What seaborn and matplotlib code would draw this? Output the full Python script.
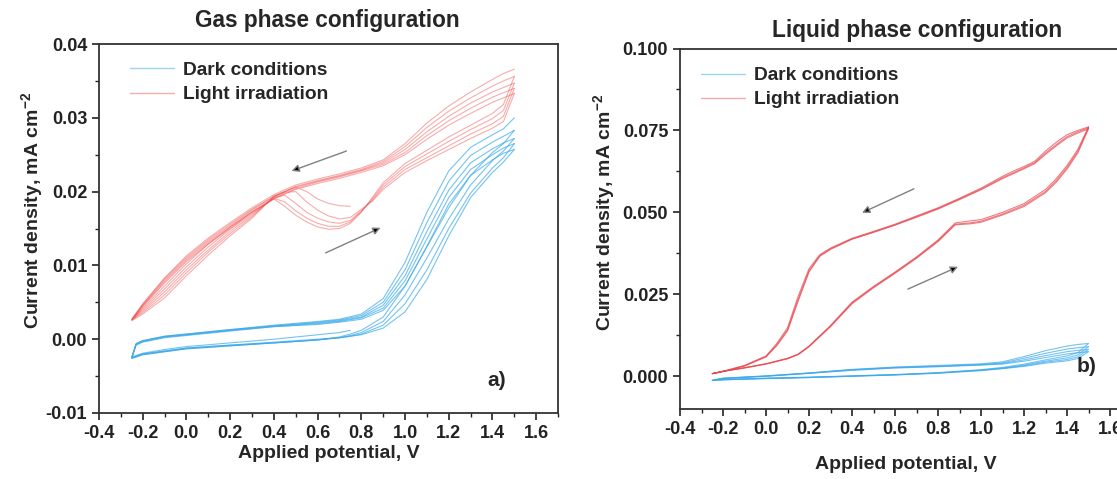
import numpy as np
import pandas as pd
import matplotlib
matplotlib.use("Agg")
import matplotlib.pyplot as plt
import seaborn as sns
from matplotlib.lines import Line2D
from matplotlib.ticker import MultipleLocator

# --- Gas phase: potential grids (V) ---
GAS_LIGHT_FWD_V = [-0.25, -0.2, -0.1, 0.0, 0.1, 0.2, 0.3, 0.4, 0.45, 0.5, 0.55, 0.6, 0.65,
                   0.7, 0.75, 0.8, 0.85, 0.9, 1.0, 1.1, 1.2, 1.3, 1.4, 1.45, 1.5]
GAS_LIGHT_REV_V = [1.5, 1.45, 1.4, 1.3, 1.2, 1.1, 1.0, 0.9, 0.8, 0.7, 0.6, 0.5, 0.4, 0.3,
                   0.2, 0.1, 0.0, -0.1, -0.2, -0.25]
GAS_DARK_FWD_V = [-0.25, -0.2, -0.1, 0.0, 0.2, 0.4, 0.6, 0.7, 0.75, 0.8, 0.9, 1.0, 1.1,
                  1.2, 1.3, 1.4, 1.45, 1.5]
GAS_DARK_REV_V = [1.5, 1.45, 1.4, 1.3, 1.2, 1.1, 1.0, 0.9, 0.8, 0.7, 0.6, 0.4, 0.2, 0.0,
                  -0.1, -0.2, -0.23, -0.25]

# --- Gas phase: current density per cycle (mA cm-2) ---
GAS_LIGHT_FWD = [
    [0.0027, 0.0042, 0.0072, 0.0102, 0.0129, 0.0152, 0.0172, 0.0190, 0.0180, 0.0168, 0.0159, 0.0152, 0.0149,
     0.0150, 0.0157, 0.0172, 0.0192, 0.0212, 0.0238, 0.0256, 0.0274, 0.0290, 0.0306, 0.0318, 0.0356],
    [0.0027, 0.0040, 0.0068, 0.0098, 0.0125, 0.0149, 0.0170, 0.0191, 0.0186, 0.0174, 0.0164, 0.0157, 0.0153,
     0.0153, 0.0159, 0.0173, 0.0190, 0.0209, 0.0234, 0.0251, 0.0268, 0.0284, 0.0299, 0.0310, 0.0347],
    [0.0026, 0.0038, 0.0064, 0.0094, 0.0121, 0.0146, 0.0168, 0.0192, 0.0195, 0.0184, 0.0172, 0.0164, 0.0159,
     0.0157, 0.0161, 0.0174, 0.0188, 0.0206, 0.0230, 0.0246, 0.0262, 0.0278, 0.0292, 0.0302, 0.0340],
    [0.0026, 0.0036, 0.0060, 0.0090, 0.0118, 0.0143, 0.0166, 0.0193, 0.0199, 0.0200, 0.0186, 0.0175, 0.0167,
     0.0163, 0.0165, 0.0176, 0.0187, 0.0203, 0.0226, 0.0242, 0.0257, 0.0272, 0.0286, 0.0295, 0.0333],
    [0.0025, 0.0034, 0.0056, 0.0086, 0.0114, 0.0140, 0.0164, 0.0194, 0.0200, 0.0206, 0.0200, 0.0190, 0.0184,
     0.0181, 0.0180],
]
GAS_LIGHT_REV = [
    [0.0366, 0.0360, 0.0352, 0.0335, 0.0316, 0.0293, 0.0265, 0.0243, 0.0232, 0.0224, 0.0217, 0.0209, 0.0196,
     0.0178, 0.0158, 0.0137, 0.0113, 0.0083, 0.0048, 0.0027],
    [0.0356, 0.0350, 0.0343, 0.0327, 0.0309, 0.0287, 0.0261, 0.0241, 0.0230, 0.0222, 0.0215, 0.0207, 0.0194,
     0.0176, 0.0156, 0.0135, 0.0111, 0.0082, 0.0047, 0.0027],
    [0.0347, 0.0341, 0.0335, 0.0320, 0.0302, 0.0281, 0.0257, 0.0239, 0.0229, 0.0221, 0.0214, 0.0206, 0.0193,
     0.0175, 0.0154, 0.0133, 0.0109, 0.0080, 0.0046, 0.0026],
    [0.0340, 0.0334, 0.0328, 0.0313, 0.0296, 0.0276, 0.0253, 0.0237, 0.0228, 0.0220, 0.0213, 0.0204, 0.0191,
     0.0173, 0.0152, 0.0131, 0.0107, 0.0078, 0.0045, 0.0026],
    [0.0333, 0.0327, 0.0321, 0.0306, 0.0290, 0.0271, 0.0250, 0.0235, 0.0226, 0.0218, 0.0211, 0.0203, 0.0190,
     0.0172, 0.0150, 0.0129, 0.0105, 0.0076, 0.0044, 0.0025],
]
GAS_DARK_FWD = [
    [-0.0026, -0.0021, -0.0017, -0.0013, -0.0009, -0.0005, -0.0001, 0.0003, 0.0007, 0.0012, 0.0030, 0.0072,
     0.0125, 0.0178, 0.0222, 0.0253, 0.0265, 0.0283],
    [-0.0026, -0.0021, -0.0017, -0.0013, -0.0009, -0.0005, -0.0001, 0.0002, 0.0005, 0.0009, 0.0024, 0.0060,
     0.0110, 0.0163, 0.0209, 0.0242, 0.0255, 0.0272],
    [-0.0025, -0.0020, -0.0016, -0.0012, -0.0008, -0.0005, -0.0001, 0.0002, 0.0004, 0.0007, 0.0019, 0.0048,
     0.0094, 0.0150, 0.0198, 0.0232, 0.0246, 0.0265],
    [-0.0025, -0.0020, -0.0016, -0.0012, -0.0008, -0.0004, 0.0000, 0.0002, 0.0004, 0.0006, 0.0015, 0.0037,
     0.0081, 0.0140, 0.0192, 0.0226, 0.0240, 0.0257],
    [-0.0024, -0.0019, -0.0014, -0.0010, -0.0005, 0.0000, 0.0006, 0.0009, 0.0012],
]
GAS_DARK_REV = [
    [0.0300, 0.0285, 0.0277, 0.0260, 0.0228, 0.0172, 0.0104, 0.0055, 0.0034, 0.0027, 0.0024, 0.0019, 0.0013,
     0.0007, 0.0004, -0.0002, -0.0006, -0.0026],
    [0.0283, 0.0275, 0.0267, 0.0249, 0.0214, 0.0158, 0.0094, 0.0050, 0.0032, 0.0026, 0.0023, 0.0018, 0.0013,
     0.0007, 0.0004, -0.0002, -0.0006, -0.0026],
    [0.0272, 0.0266, 0.0258, 0.0239, 0.0202, 0.0146, 0.0086, 0.0046, 0.0030, 0.0025, 0.0022, 0.0018, 0.0012,
     0.0006, 0.0003, -0.0003, -0.0007, -0.0025],
    [0.0265, 0.0259, 0.0250, 0.0230, 0.0192, 0.0136, 0.0079, 0.0042, 0.0029, 0.0024, 0.0021, 0.0017, 0.0012,
     0.0006, 0.0003, -0.0003, -0.0007, -0.0025],
    [0.0257, 0.0252, 0.0243, 0.0222, 0.0183, 0.0126, 0.0072, 0.0039, 0.0027, 0.0023, 0.0020, 0.0017, 0.0011,
     0.0005, 0.0002, -0.0004, -0.0008, -0.0024],
]

# --- Liquid phase: potential grids (V) ---
LIQ_LIGHT_FWD_V = [-0.25, -0.2, -0.1, 0.0, 0.1, 0.15, 0.2, 0.3, 0.4, 0.5, 0.6, 0.7, 0.8, 0.88, 0.95,
                   1.0, 1.1, 1.2, 1.3, 1.35, 1.4, 1.45, 1.5]
LIQ_LIGHT_REV_V = [1.5, 1.45, 1.4, 1.35, 1.3, 1.25, 1.2, 1.15, 1.1, 1.0, 0.9, 0.8, 0.7, 0.6, 0.5, 0.4,
                   0.3, 0.25, 0.2, 0.15, 0.1, 0.05, 0.0, -0.1, -0.2, -0.25]
LIQ_DARK_FWD_V = [-0.25, -0.2, 0.0, 0.2, 0.4, 0.6, 0.8, 1.0, 1.1, 1.2, 1.3, 1.4, 1.45, 1.5]
LIQ_DARK_REV_V = [1.5, 1.45, 1.4, 1.3, 1.2, 1.1, 1.0, 0.8, 0.6, 0.4, 0.2, 0.0, -0.2, -0.25]

# --- Liquid phase: current density per cycle (mA cm-2) ---
LIQ_LIGHT_FWD = [
    [0.0008, 0.0015, 0.0026, 0.0038, 0.0055, 0.0068, 0.0092, 0.0155, 0.0226, 0.0274, 0.0318, 0.0364, 0.0416,
     0.0468, 0.0474, 0.0478, 0.0500, 0.0527, 0.0570, 0.0603, 0.0643, 0.0692, 0.0761],
    [0.0008, 0.0015, 0.0026, 0.0038, 0.0054, 0.0067, 0.0091, 0.0153, 0.0224, 0.0272, 0.0316, 0.0362, 0.0413,
     0.0464, 0.0468, 0.0473, 0.0495, 0.0522, 0.0564, 0.0597, 0.0637, 0.0686, 0.0758],
    [0.0008, 0.0015, 0.0025, 0.0037, 0.0053, 0.0066, 0.0090, 0.0151, 0.0221, 0.0270, 0.0314, 0.0360, 0.0411,
     0.0462, 0.0465, 0.0470, 0.0492, 0.0518, 0.0560, 0.0592, 0.0632, 0.0681, 0.0755],
]
LIQ_LIGHT_REV = [
    [0.0761, 0.0750, 0.0737, 0.0714, 0.0687, 0.0656, 0.0640, 0.0626, 0.0610, 0.0574, 0.0543, 0.0514, 0.0489,
     0.0464, 0.0442, 0.0421, 0.0391, 0.0371, 0.0328, 0.0245, 0.0148, 0.0100, 0.0062, 0.0033, 0.0015, 0.0008],
    [0.0758, 0.0746, 0.0731, 0.0707, 0.0681, 0.0652, 0.0636, 0.0621, 0.0606, 0.0571, 0.0541, 0.0512, 0.0487,
     0.0462, 0.0440, 0.0419, 0.0389, 0.0368, 0.0322, 0.0236, 0.0142, 0.0096, 0.0060, 0.0032, 0.0015, 0.0008],
    [0.0755, 0.0742, 0.0727, 0.0703, 0.0677, 0.0649, 0.0633, 0.0618, 0.0603, 0.0569, 0.0539, 0.0510, 0.0485,
     0.0461, 0.0439, 0.0418, 0.0387, 0.0366, 0.0318, 0.0230, 0.0138, 0.0093, 0.0059, 0.0031, 0.0014, 0.0008],
]
LIQ_DARK_FWD = [
    [-0.0012, -0.0010, -0.0006, -0.0003, 0.0001, 0.0005, 0.0011, 0.0020, 0.0027, 0.0037, 0.0050, 0.0062, 0.0072, 0.0100],
    [-0.0012, -0.0010, -0.0006, -0.0003, 0.0001, 0.0005, 0.0010, 0.0019, 0.0025, 0.0034, 0.0046, 0.0056, 0.0065, 0.0090],
    [-0.0013, -0.0011, -0.0007, -0.0004, 0.0000, 0.0004, 0.0010, 0.0018, 0.0024, 0.0032, 0.0043, 0.0051, 0.0059, 0.0082],
    [-0.0013, -0.0011, -0.0007, -0.0004, 0.0000, 0.0004, 0.0009, 0.0017, 0.0023, 0.0030, 0.0040, 0.0047, 0.0054, 0.0075],
]
LIQ_DARK_REV = [
    [0.0100, 0.0097, 0.0092, 0.0078, 0.0060, 0.0044, 0.0038, 0.0033, 0.0028, 0.0021, 0.0010, 0.0001, -0.0006, -0.0012],
    [0.0090, 0.0087, 0.0083, 0.0070, 0.0055, 0.0041, 0.0036, 0.0031, 0.0027, 0.0020, 0.0010, 0.0001, -0.0006, -0.0012],
    [0.0082, 0.0079, 0.0075, 0.0063, 0.0050, 0.0039, 0.0035, 0.0030, 0.0026, 0.0019, 0.0009, 0.0000, -0.0007, -0.0013],
    [0.0075, 0.0072, 0.0068, 0.0057, 0.0046, 0.0037, 0.0034, 0.0029, 0.0025, 0.0018, 0.0009, 0.0000, -0.0007, -0.0013],
]

# scan direction arrows: (start V, start j, end V, end j)
GAS_ARROWS = [(0.732, 0.0255, 0.481, 0.0228), (0.637, 0.0117, 0.888, 0.0151)]
LIQ_ARROWS = [(0.688, 0.0572, 0.447, 0.0499), (0.660, 0.0266, 0.893, 0.0334)]

LABELS = ["Dark conditions", "Light irradiation"]


def cycles_frame(rev_v, rev, fwd_v, fwd):
    # each cycle: reverse sweep 1.5 -> -0.25 then forward sweep back up
    rows = []
    for i, (r, f) in enumerate(zip(rev, fwd)):
        vv = list(rev_v[:len(r)]) + list(fwd_v[:len(f)])
        jj = list(r) + list(f)
        rows.append(pd.DataFrame({"V": vv, "j": jj, "cycle": i}))
    return pd.concat(rows, ignore_index=True)


sns.set_style("ticks")
plt.rcParams["font.family"] = ["Liberation Sans", "DejaVu Sans"]
plt.rcParams["font.weight"] = "bold"
plt.rcParams["mathtext.fontset"] = "custom"
plt.rcParams["mathtext.bf"] = "Liberation Sans:bold"
plt.rcParams["mathtext.rm"] = "Liberation Sans:bold"

fig = plt.figure(figsize=(11.17, 4.79), dpi=100)
ax1 = fig.add_axes([0.0886, 0.1378, 0.4110, 0.7703])
ax2 = fig.add_axes([0.6088, 0.1461, 0.4042, 0.7526])

panels = [
    dict(ax=ax1, dark=(GAS_DARK_REV_V, GAS_DARK_REV, GAS_DARK_FWD_V, GAS_DARK_FWD),
         light=(GAS_LIGHT_REV_V, GAS_LIGHT_REV, GAS_LIGHT_FWD_V, GAS_LIGHT_FWD),
         dark_c="#3aa9ea", light_c="#f04848", light_a=0.45, ylim=(-0.01, 0.04), ymaj=0.01, yfmt="%.2f",
         title="Gas phase configuration", title_xy=(0.2927, 0.958), tag="a)", tag_xy=(0.867, 0.089),
         arrows=GAS_ARROWS, leg_xy=(0.0675, 0.952), ylab_x=-0.117, ylab_y=0.55, xlab_y=-0.087),
    dict(ax=ax2, dark=(LIQ_DARK_REV_V, LIQ_DARK_REV, LIQ_DARK_FWD_V, LIQ_DARK_FWD),
         light=(LIQ_LIGHT_REV_V, LIQ_LIGHT_REV, LIQ_LIGHT_FWD_V, LIQ_LIGHT_FWD),
         dark_c="#3aa9ea", light_c="#e8444c", light_a=0.7, ylim=(-0.01, 0.1), ymaj=0.025, yfmt="%.3f",
         title="Liquid phase configuration", title_xy=(0.821, 0.937), tag="b)", tag_xy=(0.901, 0.117),
         arrows=LIQ_ARROWS, leg_xy=(0.0465, 0.949), ylab_x=-0.139, ylab_y=0.544, xlab_y=-0.130),
]

for p in panels:
    ax = p["ax"]
    dark_df = cycles_frame(*p["dark"])
    light_df = cycles_frame(*p["light"])
    sns.lineplot(data=dark_df, x="V", y="j", units="cycle", estimator=None, sort=False,
                 color=p["dark_c"], alpha=0.7, lw=0.8, ax=ax, legend=False)
    sns.lineplot(data=light_df, x="V", y="j", units="cycle", estimator=None, sort=False,
                 color=p["light_c"], alpha=p["light_a"], lw=0.8, ax=ax, legend=False)

    for x0, y0, x1, y1 in p["arrows"]:
        ax.annotate("", xy=(x1, y1), xytext=(x0, y0),
                    arrowprops=dict(arrowstyle="-|>", edgecolor="#808080", facecolor="black",
                                    lw=1.0, mutation_scale=11, shrinkA=0, shrinkB=0))

    ax.set_xlim(-0.4, 1.7)
    ax.set_ylim(*p["ylim"])
    ax.xaxis.set_major_locator(MultipleLocator(0.2))
    ax.xaxis.set_minor_locator(MultipleLocator(0.1))
    ax.yaxis.set_major_locator(MultipleLocator(p["ymaj"]))
    ax.yaxis.set_minor_locator(MultipleLocator(p["ymaj"] / 2))
    ax.xaxis.set_major_formatter(matplotlib.ticker.FormatStrFormatter("%.1f"))
    ax.yaxis.set_major_formatter(matplotlib.ticker.FormatStrFormatter(p["yfmt"]))
    ax.tick_params(which="major", direction="out", length=5, width=1.2, labelsize=13, colors="#222222")
    ax.tick_params(which="minor", direction="out", length=3, width=1.0, colors="#222222")
    for s in ax.spines.values():
        s.set_linewidth(1.3)
        s.set_color("#333333")
    for lab in ax.get_xticklabels() + ax.get_yticklabels():
        lab.set_fontweight("bold")

    ax.set_xlabel("Applied potential, V", fontsize=14, fontweight="bold")
    ax.set_ylabel(r"Current density, mA cm$\mathbf{^{-2}}$", fontsize=14, fontweight="bold")
    ax.xaxis.set_label_coords(0.5, p["xlab_y"])
    ax.yaxis.set_label_coords(p["ylab_x"], p["ylab_y"])

    fig.text(p["title_xy"][0], p["title_xy"][1], p["title"], ha="center", va="center",
             fontsize=16.3, fontweight="bold")
    ax.text(p["tag_xy"][0], p["tag_xy"][1], p["tag"], transform=ax.transAxes, ha="center",
            va="center", fontsize=15, fontweight="bold")

    handles = [Line2D([], [], color=p["dark_c"], lw=1.0, alpha=0.5),
               Line2D([], [], color=p["light_c"], lw=1.0, alpha=0.45)]
    ax.legend(handles, LABELS, loc="upper left", bbox_to_anchor=p["leg_xy"], frameon=False,
              borderpad=0, borderaxespad=0, handlelength=2.3, handletextpad=0.45,
              labelspacing=0.35, prop=dict(size=13.8, weight="bold"))

fig.savefig("out.png", dpi=100)
